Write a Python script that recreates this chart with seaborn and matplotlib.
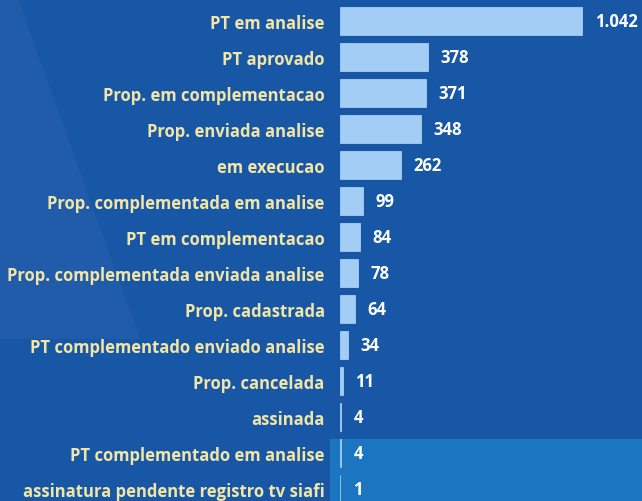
import matplotlib
matplotlib.use("Agg")
import matplotlib.pyplot as plt
import seaborn as sns
import pandas as pd
from matplotlib.patches import Rectangle, Polygon

# data
status = [
    "PT em analise",
    "PT aprovado",
    "Prop. em complementacao",
    "Prop. enviada analise",
    "em execucao",
    "Prop. complementada em analise",
    "PT em complementacao",
    "Prop. complementada enviada analise",
    "Prop. cadastrada",
    "PT complementado enviado analise",
    "Prop. cancelada",
    "assinada",
    "PT complementado em analise",
    "assinatura pendente registro tv siafi",
]
counts = [1042, 378, 371, 348, 262, 99, 84, 78, 64, 34, 11, 4, 4, 1]
count_labels = ["1.042", "378", "371", "348", "262", "99", "84", "78", "64", "34", "11", "4", "4", "1"]

df = pd.DataFrame({"status": status, "count": counts})

BG = "#1857a6"
BAR = "#a3cdf4"
LABEL = "#f1e6a6"
W, H = 642, 502

sns.set_style("white")
plt.rcParams["font.family"] = ["Open Sans", "DejaVu Sans"]

fig = plt.figure(figsize=(W / 100, H / 100), dpi=100)
fig.patch.set_facecolor(BG)

# background decoration: lighter band at the bottom right and a faint pyramid at left
bg = fig.add_axes([0, 0, 1, 1], zorder=0)
bg.set_xlim(0, W)
bg.set_ylim(H, 0)
bg.axis("off")
bg.add_patch(Rectangle((330, 440), W - 330, H - 440, facecolor="#1b76bf", edgecolor="none"))
bg.add_patch(Polygon([(0, 0), (18, 0), (140, 340), (0, 340)], closed=True,
                     facecolor="#ffffff", alpha=0.035, edgecolor="none"))

ax = fig.add_axes([340 / W, 0, (W - 340) / W, 1], zorder=1)
ax.set_facecolor("none")

sns.barplot(data=df, y="status", x="count", orient="h", color=BAR,
            width=0.78, saturation=1, ax=ax, edgecolor=BAR, linewidth=0.6)

for container in ax.containers:
    ax.bar_label(container, labels=count_labels, padding=9, color="white",
                 fontsize=12, fontweight="bold")

ax.set_xlim(0, 1300)
ax.set_ylim(13.333, -0.611)
ax.set_xlabel("")
ax.set_ylabel("")
ax.set_xticks([])
ax.tick_params(axis="y", length=0, pad=11, labelcolor=LABEL, labelsize=12)
for lab in ax.get_yticklabels():
    lab.set_fontweight("bold")
sns.despine(ax=ax, left=True, bottom=True)

fig.savefig("out.png", dpi=100, facecolor=fig.get_facecolor())
